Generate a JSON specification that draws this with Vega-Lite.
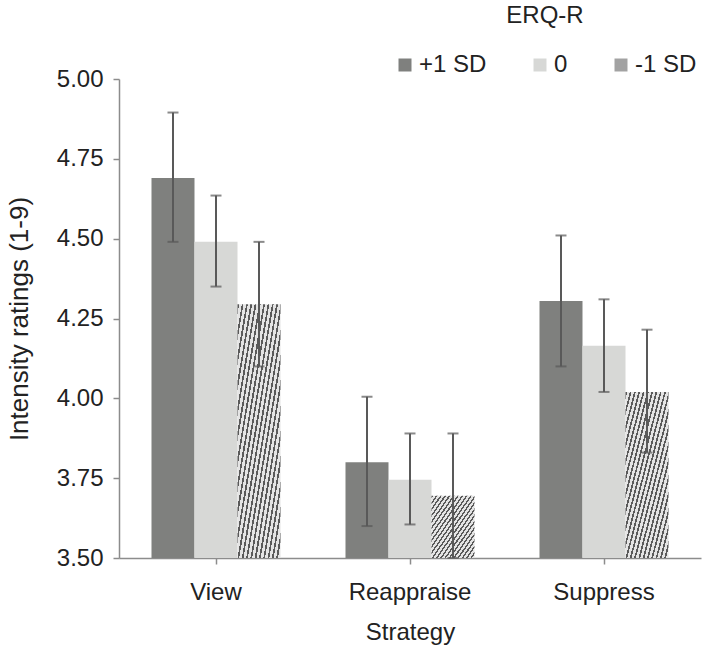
{
  "$schema": "https://vega.github.io/schema/vega-lite/v6.json",
  "width": 582,
  "height": 479,
  "autosize": {"type": "none"},
  "padding": {"left": 119, "top": 79, "right": 1, "bottom": 89},
  "background": "white",
  "config": {
    "view": {"stroke": null},
    "font": "Liberation Sans",
    "axis": {
      "labelFont": "Liberation Sans",
      "titleFont": "Liberation Sans",
      "labelFontSize": 24,
      "titleFontSize": 24,
      "titleFontWeight": "normal",
      "labelColor": "#222222",
      "titleColor": "#222222",
      "domainColor": "#8c8c8c",
      "domainWidth": 1.5,
      "tickColor": "#8c8c8c",
      "tickWidth": 1.5,
      "grid": false
    },
    "legend": {
      "labelFont": "Liberation Sans",
      "titleFont": "Liberation Sans"
    }
  },
  "data": {
    "values": [
      {"strategy": "View", "level": "+1 SD", "mean": 4.69, "lo": 4.49, "hi": 4.895},
      {"strategy": "View", "level": "0", "mean": 4.49, "lo": 4.35, "hi": 4.635},
      {"strategy": "View", "level": "-1 SD", "mean": 4.295, "lo": 4.10, "hi": 4.49},
      {"strategy": "Reappraise", "level": "+1 SD", "mean": 3.80, "lo": 3.60, "hi": 4.005},
      {"strategy": "Reappraise", "level": "0", "mean": 3.745, "lo": 3.605, "hi": 3.89},
      {"strategy": "Reappraise", "level": "-1 SD", "mean": 3.695, "lo": 3.50, "hi": 3.89},
      {"strategy": "Suppress", "level": "+1 SD", "mean": 4.305, "lo": 4.10, "hi": 4.51},
      {"strategy": "Suppress", "level": "0", "mean": 4.165, "lo": 4.02, "hi": 4.31},
      {"strategy": "Suppress", "level": "-1 SD", "mean": 4.02, "lo": 3.83, "hi": 4.215}
    ]
  },
  "encoding": {
    "x": {
      "field": "strategy",
      "type": "nominal",
      "sort": ["View", "Reappraise", "Suppress"],
      "scale": {"paddingInner": 0.335, "paddingOuter": 0.1675},
      "axis": {
        "title": "Strategy",
        "labelAngle": 0,
        "tickSize": 6,
        "labelPadding": 16,
        "titlePadding": 16
      }
    },
    "xOffset": {
      "field": "level",
      "type": "nominal",
      "sort": ["+1 SD", "0", "-1 SD"],
      "scale": {"domain": ["+1 SD", "0", "-1 SD"], "paddingInner": 0, "paddingOuter": 0}
    }
  },
  "layer": [
    {
      "mark": {"type": "bar"},
      "encoding": {
        "y": {
          "field": "mean",
          "type": "quantitative",
          "scale": {"domain": [3.5, 5], "nice": false, "zero": false},
          "axis": {
            "title": "Intensity ratings (1-9)",
            "titleFontSize": 26,
            "values": [3.5, 3.75, 4.0, 4.25, 4.5, 4.75, 5.0],
            "format": ".2f",
            "tickSize": 6,
            "labelPadding": 10,
            "titlePadding": 24
          }
        },
        "y2": {"datum": 3.5},
        "color": {
          "condition": {
            "test": "datum.level === '-1 SD'",
            "value": {
              "gradient": "linear",
              "x1": 0, "y1": 0, "x2": 1, "y2": 1,
              "stops": [
                {"offset": 0.0, "color": "#5a5a5a"}, {"offset": 0.02, "color": "#5a5a5a"}, {"offset": 0.02, "color": "#e4e4e4"}, {"offset": 0.05, "color": "#e4e4e4"},
                {"offset": 0.05, "color": "#5a5a5a"}, {"offset": 0.07, "color": "#5a5a5a"}, {"offset": 0.07, "color": "#e4e4e4"}, {"offset": 0.1, "color": "#e4e4e4"},
                {"offset": 0.1, "color": "#5a5a5a"}, {"offset": 0.12, "color": "#5a5a5a"}, {"offset": 0.12, "color": "#e4e4e4"}, {"offset": 0.15, "color": "#e4e4e4"},
                {"offset": 0.15, "color": "#5a5a5a"}, {"offset": 0.17, "color": "#5a5a5a"}, {"offset": 0.17, "color": "#e4e4e4"}, {"offset": 0.2, "color": "#e4e4e4"},
                {"offset": 0.2, "color": "#5a5a5a"}, {"offset": 0.22, "color": "#5a5a5a"}, {"offset": 0.22, "color": "#e4e4e4"}, {"offset": 0.25, "color": "#e4e4e4"},
                {"offset": 0.25, "color": "#5a5a5a"}, {"offset": 0.27, "color": "#5a5a5a"}, {"offset": 0.27, "color": "#e4e4e4"}, {"offset": 0.3, "color": "#e4e4e4"},
                {"offset": 0.3, "color": "#5a5a5a"}, {"offset": 0.32, "color": "#5a5a5a"}, {"offset": 0.32, "color": "#e4e4e4"}, {"offset": 0.35, "color": "#e4e4e4"},
                {"offset": 0.35, "color": "#5a5a5a"}, {"offset": 0.37, "color": "#5a5a5a"}, {"offset": 0.37, "color": "#e4e4e4"}, {"offset": 0.4, "color": "#e4e4e4"},
                {"offset": 0.4, "color": "#5a5a5a"}, {"offset": 0.42, "color": "#5a5a5a"}, {"offset": 0.42, "color": "#e4e4e4"}, {"offset": 0.45, "color": "#e4e4e4"},
                {"offset": 0.45, "color": "#5a5a5a"}, {"offset": 0.47, "color": "#5a5a5a"}, {"offset": 0.47, "color": "#e4e4e4"}, {"offset": 0.5, "color": "#e4e4e4"},
                {"offset": 0.5, "color": "#5a5a5a"}, {"offset": 0.52, "color": "#5a5a5a"}, {"offset": 0.52, "color": "#e4e4e4"}, {"offset": 0.55, "color": "#e4e4e4"},
                {"offset": 0.55, "color": "#5a5a5a"}, {"offset": 0.57, "color": "#5a5a5a"}, {"offset": 0.57, "color": "#e4e4e4"}, {"offset": 0.6, "color": "#e4e4e4"},
                {"offset": 0.6, "color": "#5a5a5a"}, {"offset": 0.62, "color": "#5a5a5a"}, {"offset": 0.62, "color": "#e4e4e4"}, {"offset": 0.65, "color": "#e4e4e4"},
                {"offset": 0.65, "color": "#5a5a5a"}, {"offset": 0.67, "color": "#5a5a5a"}, {"offset": 0.67, "color": "#e4e4e4"}, {"offset": 0.7, "color": "#e4e4e4"},
                {"offset": 0.7, "color": "#5a5a5a"}, {"offset": 0.72, "color": "#5a5a5a"}, {"offset": 0.72, "color": "#e4e4e4"}, {"offset": 0.75, "color": "#e4e4e4"},
                {"offset": 0.75, "color": "#5a5a5a"}, {"offset": 0.77, "color": "#5a5a5a"}, {"offset": 0.77, "color": "#e4e4e4"}, {"offset": 0.8, "color": "#e4e4e4"},
                {"offset": 0.8, "color": "#5a5a5a"}, {"offset": 0.82, "color": "#5a5a5a"}, {"offset": 0.82, "color": "#e4e4e4"}, {"offset": 0.85, "color": "#e4e4e4"},
                {"offset": 0.85, "color": "#5a5a5a"}, {"offset": 0.87, "color": "#5a5a5a"}, {"offset": 0.87, "color": "#e4e4e4"}, {"offset": 0.9, "color": "#e4e4e4"},
                {"offset": 0.9, "color": "#5a5a5a"}, {"offset": 0.92, "color": "#5a5a5a"}, {"offset": 0.92, "color": "#e4e4e4"}, {"offset": 0.95, "color": "#e4e4e4"},
                {"offset": 0.95, "color": "#5a5a5a"}, {"offset": 0.97, "color": "#5a5a5a"}, {"offset": 0.97, "color": "#e4e4e4"}, {"offset": 1.0, "color": "#e4e4e4"}
              ]
            }
          },
          "field": "level",
          "type": "nominal",
          "sort": ["+1 SD", "0", "-1 SD"],
          "scale": {
            "domain": ["+1 SD", "0", "-1 SD"],
            "range": ["#7f807e", "#d7d8d6", "#a2a2a2"]
          },
          "legend": {
            "title": "ERQ-R",
            "orient": "none",
            "legendX": 274,
            "legendY": -75,
            "direction": "horizontal",
            "columns": 3,
            "columnPadding": 41,
            "symbolType": "square",
            "symbolSize": 169,
            "symbolStrokeWidth": 0,
            "labelFontSize": 24,
            "labelColor": "#222222",
            "labelOffset": 2,
            "titleFontSize": 24,
            "titleFontWeight": "normal",
            "titleColor": "#222222",
            "titleAnchor": "middle",
            "titlePadding": 25,
            "padding": 0
          }
        }
      }
    },
    {
      "mark": {"type": "rule", "color": "#595959", "strokeWidth": 2},
      "encoding": {
        "y": {"field": "lo", "type": "quantitative"},
        "y2": {"field": "hi"}
      }
    },
    {
      "mark": {"type": "tick", "orient": "horizontal", "color": "#595959", "size": 11, "thickness": 2},
      "encoding": {
        "y": {"field": "lo", "type": "quantitative"}
      }
    },
    {
      "mark": {"type": "tick", "orient": "horizontal", "color": "#595959", "size": 11, "thickness": 2},
      "encoding": {
        "y": {"field": "hi", "type": "quantitative"}
      }
    }
  ]
}
